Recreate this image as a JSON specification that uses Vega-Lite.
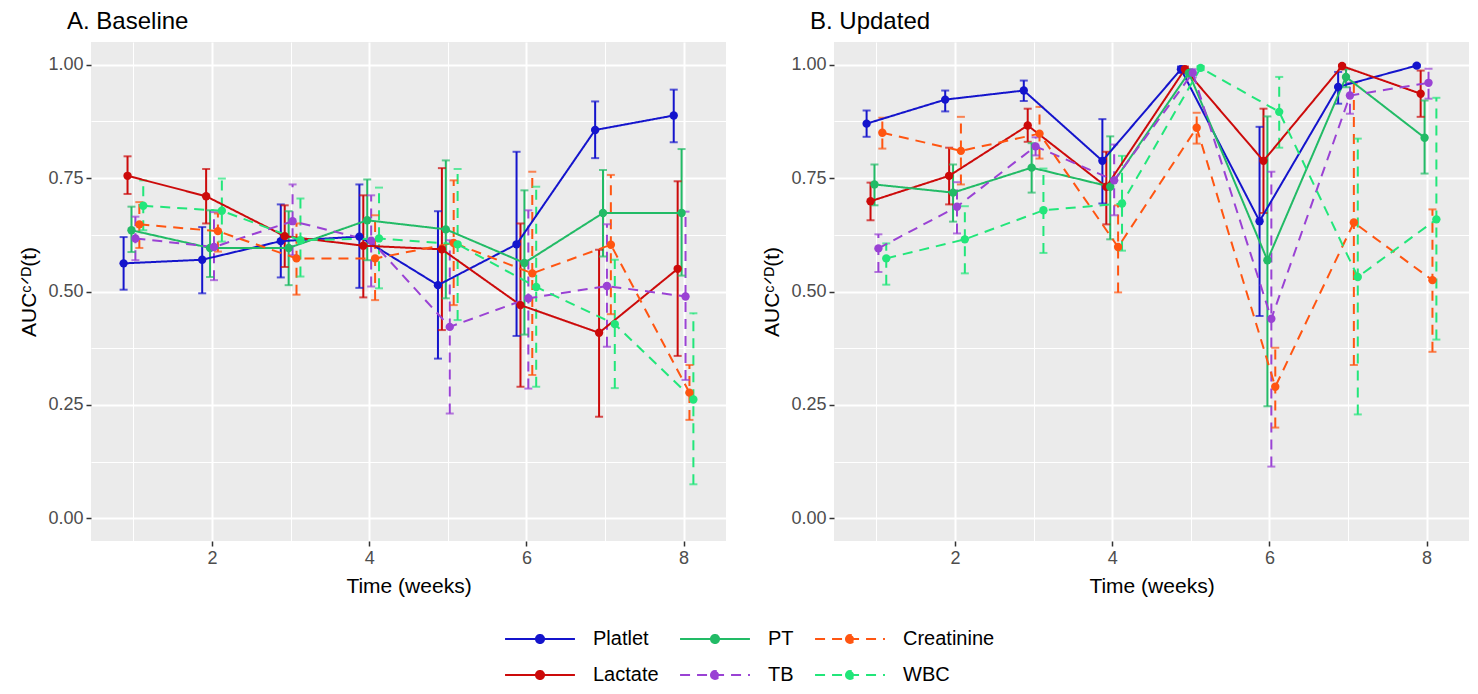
{
  "$schema": "https://vega.github.io/schema/vega-lite/v6.json",
  "background": "white",
  "padding": {"left": 18, "top": 10, "right": 8, "bottom": 4},
  "spacing": 35,
  "datasets": {
    "auc": [
      {"panel": "Baseline", "series": "Platlet", "week": 1, "auc": 0.562, "lower": 0.504, "upper": 0.620},
      {"panel": "Baseline", "series": "Lactate", "week": 1, "auc": 0.755, "lower": 0.715, "upper": 0.798},
      {"panel": "Baseline", "series": "PT", "week": 1, "auc": 0.635, "lower": 0.587, "upper": 0.687},
      {"panel": "Baseline", "series": "TB", "week": 1, "auc": 0.617, "lower": 0.569, "upper": 0.665},
      {"panel": "Baseline", "series": "Creatinine", "week": 1, "auc": 0.648, "lower": 0.596, "upper": 0.697},
      {"panel": "Baseline", "series": "WBC", "week": 1, "auc": 0.689, "lower": 0.635, "upper": 0.745},
      {"panel": "Baseline", "series": "Platlet", "week": 2, "auc": 0.570, "lower": 0.496, "upper": 0.642},
      {"panel": "Baseline", "series": "Lactate", "week": 2, "auc": 0.710, "lower": 0.650, "upper": 0.770},
      {"panel": "Baseline", "series": "PT", "week": 2, "auc": 0.596, "lower": 0.532, "upper": 0.679},
      {"panel": "Baseline", "series": "TB", "week": 2, "auc": 0.598, "lower": 0.525, "upper": 0.675},
      {"panel": "Baseline", "series": "Creatinine", "week": 2, "auc": 0.633, "lower": 0.588, "upper": 0.672},
      {"panel": "Baseline", "series": "WBC", "week": 2, "auc": 0.678, "lower": 0.610, "upper": 0.749},
      {"panel": "Baseline", "series": "Platlet", "week": 3, "auc": 0.611, "lower": 0.531, "upper": 0.692},
      {"panel": "Baseline", "series": "Lactate", "week": 3, "auc": 0.622, "lower": 0.554, "upper": 0.690},
      {"panel": "Baseline", "series": "PT", "week": 3, "auc": 0.596, "lower": 0.514, "upper": 0.677},
      {"panel": "Baseline", "series": "TB", "week": 3, "auc": 0.655, "lower": 0.580, "upper": 0.736},
      {"panel": "Baseline", "series": "Creatinine", "week": 3, "auc": 0.573, "lower": 0.493, "upper": 0.650},
      {"panel": "Baseline", "series": "WBC", "week": 3, "auc": 0.613, "lower": 0.533, "upper": 0.705},
      {"panel": "Baseline", "series": "Platlet", "week": 4, "auc": 0.621, "lower": 0.508, "upper": 0.736},
      {"panel": "Baseline", "series": "Lactate", "week": 4, "auc": 0.601, "lower": 0.487, "upper": 0.712},
      {"panel": "Baseline", "series": "PT", "week": 4, "auc": 0.657, "lower": 0.569, "upper": 0.747},
      {"panel": "Baseline", "series": "TB", "week": 4, "auc": 0.612, "lower": 0.511, "upper": 0.712},
      {"panel": "Baseline", "series": "Creatinine", "week": 4, "auc": 0.573, "lower": 0.481, "upper": 0.668},
      {"panel": "Baseline", "series": "WBC", "week": 4, "auc": 0.617, "lower": 0.507, "upper": 0.729},
      {"panel": "Baseline", "series": "Platlet", "week": 5, "auc": 0.514, "lower": 0.352, "upper": 0.677},
      {"panel": "Baseline", "series": "Lactate", "week": 5, "auc": 0.593, "lower": 0.415, "upper": 0.772},
      {"panel": "Baseline", "series": "PT", "week": 5, "auc": 0.637, "lower": 0.485, "upper": 0.789},
      {"panel": "Baseline", "series": "TB", "week": 5, "auc": 0.422, "lower": 0.231, "upper": 0.613},
      {"panel": "Baseline", "series": "Creatinine", "week": 5, "auc": 0.607, "lower": 0.470, "upper": 0.745},
      {"panel": "Baseline", "series": "WBC", "week": 5, "auc": 0.604, "lower": 0.437, "upper": 0.770},
      {"panel": "Baseline", "series": "Platlet", "week": 6, "auc": 0.604, "lower": 0.402, "upper": 0.808},
      {"panel": "Baseline", "series": "Lactate", "week": 6, "auc": 0.470, "lower": 0.290, "upper": 0.650},
      {"panel": "Baseline", "series": "PT", "week": 6, "auc": 0.563, "lower": 0.405, "upper": 0.723},
      {"panel": "Baseline", "series": "TB", "week": 6, "auc": 0.485, "lower": 0.286, "upper": 0.679},
      {"panel": "Baseline", "series": "Creatinine", "week": 6, "auc": 0.540, "lower": 0.316, "upper": 0.764},
      {"panel": "Baseline", "series": "WBC", "week": 6, "auc": 0.510, "lower": 0.290, "upper": 0.731},
      {"panel": "Baseline", "series": "Platlet", "week": 7, "auc": 0.856, "lower": 0.794, "upper": 0.919},
      {"panel": "Baseline", "series": "Lactate", "week": 7, "auc": 0.409, "lower": 0.224, "upper": 0.592},
      {"panel": "Baseline", "series": "PT", "week": 7, "auc": 0.673, "lower": 0.577, "upper": 0.768},
      {"panel": "Baseline", "series": "TB", "week": 7, "auc": 0.512, "lower": 0.378, "upper": 0.648},
      {"panel": "Baseline", "series": "Creatinine", "week": 7, "auc": 0.603, "lower": 0.450, "upper": 0.757},
      {"panel": "Baseline", "series": "WBC", "week": 7, "auc": 0.428, "lower": 0.287, "upper": 0.570},
      {"panel": "Baseline", "series": "Platlet", "week": 8, "auc": 0.888, "lower": 0.829, "upper": 0.945},
      {"panel": "Baseline", "series": "Lactate", "week": 8, "auc": 0.550, "lower": 0.358, "upper": 0.743},
      {"panel": "Baseline", "series": "PT", "week": 8, "auc": 0.673, "lower": 0.535, "upper": 0.814},
      {"panel": "Baseline", "series": "TB", "week": 8, "auc": 0.489, "lower": 0.305, "upper": 0.676},
      {"panel": "Baseline", "series": "Creatinine", "week": 8, "auc": 0.277, "lower": 0.217, "upper": 0.338},
      {"panel": "Baseline", "series": "WBC", "week": 8, "auc": 0.262, "lower": 0.075, "upper": 0.452},
      {"panel": "Updated", "series": "Platlet", "week": 1, "auc": 0.870, "lower": 0.841, "upper": 0.899},
      {"panel": "Updated", "series": "Lactate", "week": 1, "auc": 0.699, "lower": 0.657, "upper": 0.740},
      {"panel": "Updated", "series": "PT", "week": 1, "auc": 0.736, "lower": 0.690, "upper": 0.780},
      {"panel": "Updated", "series": "TB", "week": 1, "auc": 0.595, "lower": 0.543, "upper": 0.626},
      {"panel": "Updated", "series": "Creatinine", "week": 1, "auc": 0.850, "lower": 0.815, "upper": 0.883},
      {"panel": "Updated", "series": "WBC", "week": 1, "auc": 0.573, "lower": 0.515, "upper": 0.606},
      {"panel": "Updated", "series": "Platlet", "week": 2, "auc": 0.923, "lower": 0.897, "upper": 0.943},
      {"panel": "Updated", "series": "Lactate", "week": 2, "auc": 0.755, "lower": 0.692, "upper": 0.817},
      {"panel": "Updated", "series": "PT", "week": 2, "auc": 0.718, "lower": 0.654, "upper": 0.780},
      {"panel": "Updated", "series": "TB", "week": 2, "auc": 0.687, "lower": 0.628, "upper": 0.741},
      {"panel": "Updated", "series": "Creatinine", "week": 2, "auc": 0.810, "lower": 0.736, "upper": 0.885},
      {"panel": "Updated", "series": "WBC", "week": 2, "auc": 0.615, "lower": 0.540, "upper": 0.688},
      {"panel": "Updated", "series": "Platlet", "week": 3, "auc": 0.943, "lower": 0.920, "upper": 0.965},
      {"panel": "Updated", "series": "Lactate", "week": 3, "auc": 0.866, "lower": 0.830, "upper": 0.903},
      {"panel": "Updated", "series": "PT", "week": 3, "auc": 0.773, "lower": 0.718, "upper": 0.827},
      {"panel": "Updated", "series": "TB", "week": 3, "auc": 0.820, "lower": 0.800, "upper": 0.840},
      {"panel": "Updated", "series": "Creatinine", "week": 3, "auc": 0.848, "lower": 0.793, "upper": 0.907},
      {"panel": "Updated", "series": "WBC", "week": 3, "auc": 0.679, "lower": 0.585, "upper": 0.771},
      {"panel": "Updated", "series": "Platlet", "week": 4, "auc": 0.788, "lower": 0.694, "upper": 0.880},
      {"panel": "Updated", "series": "Lactate", "week": 4, "auc": 0.731, "lower": 0.648, "upper": 0.808},
      {"panel": "Updated", "series": "PT", "week": 4, "auc": 0.731, "lower": 0.615, "upper": 0.842},
      {"panel": "Updated", "series": "TB", "week": 4, "auc": 0.745, "lower": 0.668, "upper": 0.824},
      {"panel": "Updated", "series": "Creatinine", "week": 4, "auc": 0.598, "lower": 0.498, "upper": 0.690},
      {"panel": "Updated", "series": "WBC", "week": 4, "auc": 0.694, "lower": 0.590, "upper": 0.799},
      {"panel": "Updated", "series": "Platlet", "week": 5, "auc": 0.990, "lower": 0.982, "upper": 0.996},
      {"panel": "Updated", "series": "Lactate", "week": 5, "auc": 0.990, "lower": 0.982, "upper": 0.996},
      {"panel": "Updated", "series": "PT", "week": 5, "auc": 0.982, "lower": 0.972, "upper": 0.990},
      {"panel": "Updated", "series": "TB", "week": 5, "auc": 0.982, "lower": 0.972, "upper": 0.990},
      {"panel": "Updated", "series": "Creatinine", "week": 5, "auc": 0.861, "lower": 0.826, "upper": 0.894},
      {"panel": "Updated", "series": "WBC", "week": 5, "auc": 0.993, "lower": 0.988, "upper": 0.997},
      {"panel": "Updated", "series": "Platlet", "week": 6, "auc": 0.655, "lower": 0.446, "upper": 0.863},
      {"panel": "Updated", "series": "Lactate", "week": 6, "auc": 0.788, "lower": 0.673, "upper": 0.903},
      {"panel": "Updated", "series": "PT", "week": 6, "auc": 0.569, "lower": 0.247, "upper": 0.886},
      {"panel": "Updated", "series": "TB", "week": 6, "auc": 0.440, "lower": 0.114, "upper": 0.764},
      {"panel": "Updated", "series": "Creatinine", "week": 6, "auc": 0.290, "lower": 0.200, "upper": 0.376},
      {"panel": "Updated", "series": "WBC", "week": 6, "auc": 0.896, "lower": 0.817, "upper": 0.973},
      {"panel": "Updated", "series": "Platlet", "week": 7, "auc": 0.951, "lower": 0.914, "upper": 0.984},
      {"panel": "Updated", "series": "Lactate", "week": 7, "auc": 0.997, "lower": 0.990, "upper": 1.0},
      {"panel": "Updated", "series": "PT", "week": 7, "auc": 0.973, "lower": 0.950, "upper": 0.990},
      {"panel": "Updated", "series": "TB", "week": 7, "auc": 0.932, "lower": 0.892, "upper": 0.960},
      {"panel": "Updated", "series": "Creatinine", "week": 7, "auc": 0.652, "lower": 0.338, "upper": 0.960},
      {"panel": "Updated", "series": "WBC", "week": 7, "auc": 0.532, "lower": 0.229, "upper": 0.837},
      {"panel": "Updated", "series": "Platlet", "week": 8, "auc": 0.998, "lower": 0.995, "upper": 1.0},
      {"panel": "Updated", "series": "Lactate", "week": 8, "auc": 0.936, "lower": 0.885, "upper": 0.987},
      {"panel": "Updated", "series": "PT", "week": 8, "auc": 0.839, "lower": 0.760, "upper": 0.921},
      {"panel": "Updated", "series": "TB", "week": 8, "auc": 0.960, "lower": 0.925, "upper": 0.991},
      {"panel": "Updated", "series": "Creatinine", "week": 8, "auc": 0.525, "lower": 0.367, "upper": 0.681},
      {"panel": "Updated", "series": "WBC", "week": 8, "auc": 0.659, "lower": 0.394, "upper": 0.927}
    ]
  },
  "hconcat": [
    {
      "width": 635,
      "height": 499,
      "title": {"text": "A. Baseline"},
      "data": {"name": "auc"},
      "transform": [{"filter": "datum.panel == 'Baseline'"}],
      "encoding": {
        "x": {"field": "week", "type": "quantitative", "title": "Time (weeks)",
          "scale": {"domain": [0.46, 8.54], "nice": false, "zero": false},
          "axis": {"values": [1, 2, 3, 4, 5, 6, 7, 8], "labelExpr": "datum.value % 2 == 0 ? datum.label : ''",
            "gridWidth": {"condition": {"test": "datum.value % 2 == 1", "value": 1}, "value": 2},
            "tickOpacity": {"condition": {"test": "datum.value % 2 == 1", "value": 0}, "value": 1}}},
        "color": {"field": "series", "type": "nominal",
          "scale": {"domain": ["Platlet", "Lactate", "PT", "TB", "Creatinine", "WBC"],
            "range": ["#1414CC", "#CC0A0A", "#22BB66", "#9A42D4", "#FF5511", "#22E67A"]}}
      },
      "layer": [
        {"mark": {"type": "rule", "strokeWidth": 2, "xOffset": {"expr": "indexof(['Platlet','Lactate','PT','TB','Creatinine','WBC'], datum.series) * 3.93 - 9.83"}},
          "encoding": {
            "y": {"field": "lower", "type": "quantitative", "title": "AUCᶜᐟᴰ(t)",
              "scale": {"domain": [-0.05, 1.05], "nice": false, "zero": false},
              "axis": {"values": [0, 0.125, 0.25, 0.375, 0.5, 0.625, 0.75, 0.875, 1],
                "labelExpr": "(datum.value * 4) % 1 == 0 ? format(datum.value, '.2f') : ''",
                "gridWidth": {"condition": {"test": "(datum.value * 4) % 1 != 0", "value": 1}, "value": 2},
                "tickOpacity": {"condition": {"test": "(datum.value * 4) % 1 != 0", "value": 0}, "value": 1}}},
            "y2": {"field": "upper"},
            "strokeDash": {"field": "series", "type": "nominal",
              "scale": {"domain": ["Platlet", "Lactate", "PT", "TB", "Creatinine", "WBC"],
                "range": [[1, 0], [1, 0], [1, 0], [10, 7], [10, 7], [10, 7]]}}
          }},
        {"mark": {"type": "tick", "orient": "horizontal", "size": 8, "thickness": 2, "xOffset": {"expr": "indexof(['Platlet','Lactate','PT','TB','Creatinine','WBC'], datum.series) * 3.93 - 9.83"}},
          "encoding": {"y": {"field": "lower", "type": "quantitative", "title": "AUCᶜᐟᴰ(t)"}}},
        {"mark": {"type": "tick", "orient": "horizontal", "size": 8, "thickness": 2, "xOffset": {"expr": "indexof(['Platlet','Lactate','PT','TB','Creatinine','WBC'], datum.series) * 3.93 - 9.83"}},
          "encoding": {"y": {"field": "upper", "type": "quantitative", "title": "AUCᶜᐟᴰ(t)"}}},
        {"mark": {"type": "line", "strokeWidth": 2, "xOffset": {"expr": "indexof(['Platlet','Lactate','PT','TB','Creatinine','WBC'], datum.series) * 3.93 - 9.83"}},
          "encoding": {"y": {"field": "auc", "type": "quantitative", "title": "AUCᶜᐟᴰ(t)"},
            "strokeDash": {"field": "series", "type": "nominal"}}},
        {"mark": {"type": "point", "filled": true, "size": 70, "opacity": 1, "xOffset": {"expr": "indexof(['Platlet','Lactate','PT','TB','Creatinine','WBC'], datum.series) * 3.93 - 9.83"}},
          "encoding": {"y": {"field": "auc", "type": "quantitative", "title": "AUCᶜᐟᴰ(t)"}}}
      ]
    },
    {
      "width": 635,
      "height": 499,
      "title": {"text": "B. Updated"},
      "data": {"name": "auc"},
      "transform": [{"filter": "datum.panel == 'Updated'"}],
      "encoding": {
        "x": {"field": "week", "type": "quantitative", "title": "Time (weeks)",
          "scale": {"domain": [0.46, 8.54], "nice": false, "zero": false},
          "axis": {"values": [1, 2, 3, 4, 5, 6, 7, 8], "labelExpr": "datum.value % 2 == 0 ? datum.label : ''",
            "gridWidth": {"condition": {"test": "datum.value % 2 == 1", "value": 1}, "value": 2},
            "tickOpacity": {"condition": {"test": "datum.value % 2 == 1", "value": 0}, "value": 1}}},
        "color": {"field": "series", "type": "nominal",
          "scale": {"domain": ["Platlet", "Lactate", "PT", "TB", "Creatinine", "WBC"],
            "range": ["#1414CC", "#CC0A0A", "#22BB66", "#9A42D4", "#FF5511", "#22E67A"]}}
      },
      "layer": [
        {"mark": {"type": "rule", "strokeWidth": 2, "xOffset": {"expr": "indexof(['Platlet','Lactate','PT','TB','Creatinine','WBC'], datum.series) * 3.93 - 9.83"}},
          "encoding": {
            "y": {"field": "lower", "type": "quantitative", "title": "AUCᶜᐟᴰ(t)",
              "scale": {"domain": [-0.05, 1.05], "nice": false, "zero": false},
              "axis": {"values": [0, 0.125, 0.25, 0.375, 0.5, 0.625, 0.75, 0.875, 1],
                "labelExpr": "(datum.value * 4) % 1 == 0 ? format(datum.value, '.2f') : ''",
                "gridWidth": {"condition": {"test": "(datum.value * 4) % 1 != 0", "value": 1}, "value": 2},
                "tickOpacity": {"condition": {"test": "(datum.value * 4) % 1 != 0", "value": 0}, "value": 1}}},
            "y2": {"field": "upper"},
            "strokeDash": {"field": "series", "type": "nominal",
              "scale": {"domain": ["Platlet", "Lactate", "PT", "TB", "Creatinine", "WBC"],
                "range": [[1, 0], [1, 0], [1, 0], [10, 7], [10, 7], [10, 7]]}}
          }},
        {"mark": {"type": "tick", "orient": "horizontal", "size": 8, "thickness": 2, "xOffset": {"expr": "indexof(['Platlet','Lactate','PT','TB','Creatinine','WBC'], datum.series) * 3.93 - 9.83"}},
          "encoding": {"y": {"field": "lower", "type": "quantitative", "title": "AUCᶜᐟᴰ(t)"}}},
        {"mark": {"type": "tick", "orient": "horizontal", "size": 8, "thickness": 2, "xOffset": {"expr": "indexof(['Platlet','Lactate','PT','TB','Creatinine','WBC'], datum.series) * 3.93 - 9.83"}},
          "encoding": {"y": {"field": "upper", "type": "quantitative", "title": "AUCᶜᐟᴰ(t)"}}},
        {"mark": {"type": "line", "strokeWidth": 2, "xOffset": {"expr": "indexof(['Platlet','Lactate','PT','TB','Creatinine','WBC'], datum.series) * 3.93 - 9.83"}},
          "encoding": {"y": {"field": "auc", "type": "quantitative", "title": "AUCᶜᐟᴰ(t)"},
            "strokeDash": {"field": "series", "type": "nominal"}}},
        {"mark": {"type": "point", "filled": true, "size": 70, "opacity": 1, "xOffset": {"expr": "indexof(['Platlet','Lactate','PT','TB','Creatinine','WBC'], datum.series) * 3.93 - 9.83"}},
          "encoding": {"y": {"field": "auc", "type": "quantitative", "title": "AUCᶜᐟᴰ(t)"}}}
      ]
    }
  ],
  "resolve": {"scale": {"color": "shared", "strokeDash": "shared"}},
  "config": {
    "font": "Liberation Sans",
    "view": {"fill": "#EBEBEB", "stroke": null},
    "axis": {"domain": false, "gridColor": "#FFFFFF", "tickColor": "#333333", "tickSize": 5, "tickWidth": 1.5,
      "labelColor": "#4D4D4D", "labelFontSize": 18, "labelFont": "Liberation Sans", "labelPadding": 3,
      "labelOverlap": false, "labelFlush": false,
      "titleFont": "Liberation Sans", "titleFontSize": 21, "titleFontWeight": "normal", "titleColor": "#000000", "titlePadding": 8},
    "title": {"anchor": "start", "frame": "group", "dx": -24, "fontSize": 24, "fontWeight": "normal", "color": "#000000", "font": "Liberation Sans", "offset": 8},
    "legend": {"orient": "none", "legendX": 413, "legendY": 581, "direction": "vertical", "title": null, "columns": 3, "labelFontSize": 20, "labelFont": "Liberation Sans", "labelColor": "#000000",
      "symbolType": "M-2.33,0H2.33M-0.27,0A0.27,0.27 0 1 0 0.27,0A0.27,0.27 0 1 0 -0.27,0Z",
      "symbolSize": 900, "symbolStrokeWidth": 2, "symbolOpacity": 1, "symbolOffset": 20, "labelOffset": 37, "columnPadding": 17, "rowPadding": 10}
  }
}
